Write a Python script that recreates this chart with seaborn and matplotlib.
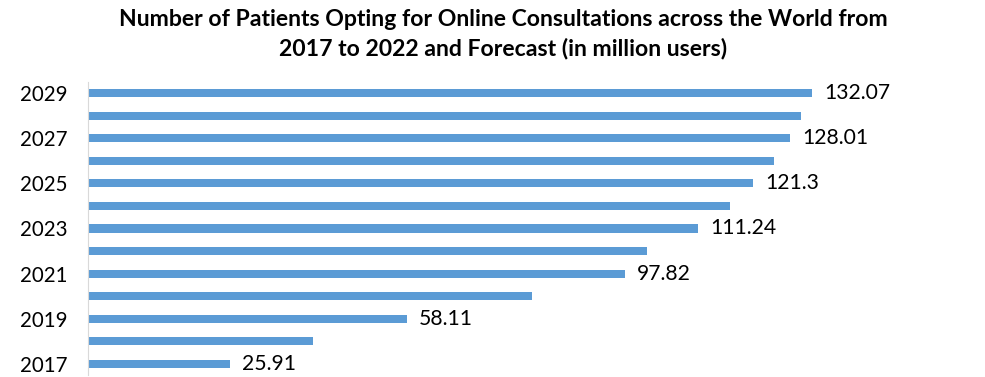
import matplotlib
matplotlib.use("Agg")
import matplotlib.pyplot as plt
import seaborn as sns
import pandas as pd

# données
years = ["2017", "2018", "2019", "2020", "2021", "2022", "2023",
         "2024", "2025", "2026", "2027", "2028", "2029"]
users = [25.91, 41.0, 58.11, 80.9, 97.82, 101.9, 111.24,
         117.0, 121.3, 125.0, 128.01, 129.9, 132.07]
shown_labels = ["2017", "2019", "2021", "2023", "2025", "2027", "2029"]

df = pd.DataFrame({"year": years, "users": users})
order = years[::-1]

sns.set_style("white")
plt.rcParams["font.family"] = ["Lato", "DejaVu Sans"]
plt.rcParams["text.color"] = "black"
plt.rcParams["ytick.color"] = "black"

fig = plt.figure(figsize=(9.85, 3.77), dpi=100)
ax = fig.add_axes([88 / 985, 2 / 377, (856 - 88) / 985, (375 - 82) / 377])

sns.barplot(data=df, x="users", y="year", order=order, orient="h",
            color="#5B9BD5", saturation=1, width=0.36, linewidth=0, ax=ax)

ax.set_xlim(0, 140)
ax.set_xlabel("")
ax.set_ylabel("")
ax.set_xticks([])
ax.set_yticks(range(len(order)))
ax.set_yticklabels([y if y in shown_labels else "" for y in order], fontsize=14.8)
ax.tick_params(axis="y", length=0, pad=15)
for s in ["top", "right", "bottom"]:
    ax.spines[s].set_visible(False)
ax.spines["left"].set_color("#D9D9D9")
ax.spines["left"].set_linewidth(0.8)

for i, y in enumerate(order):
    if y in shown_labels:
        v = df.loc[df["year"] == y, "users"].iloc[0]
        ax.text(v + 2.2, i, f"{v:g}", va="center", ha="left", fontsize=15.2)

fig.text(0.511, 0.975, "Number of Patients Opting for Online Consultations across the World from\n2017 to 2022 and Forecast (in million users)",
         ha="center", va="top", fontsize=16.6, fontweight="bold", linespacing=1.38)

plt.savefig("out.png", dpi=100)
